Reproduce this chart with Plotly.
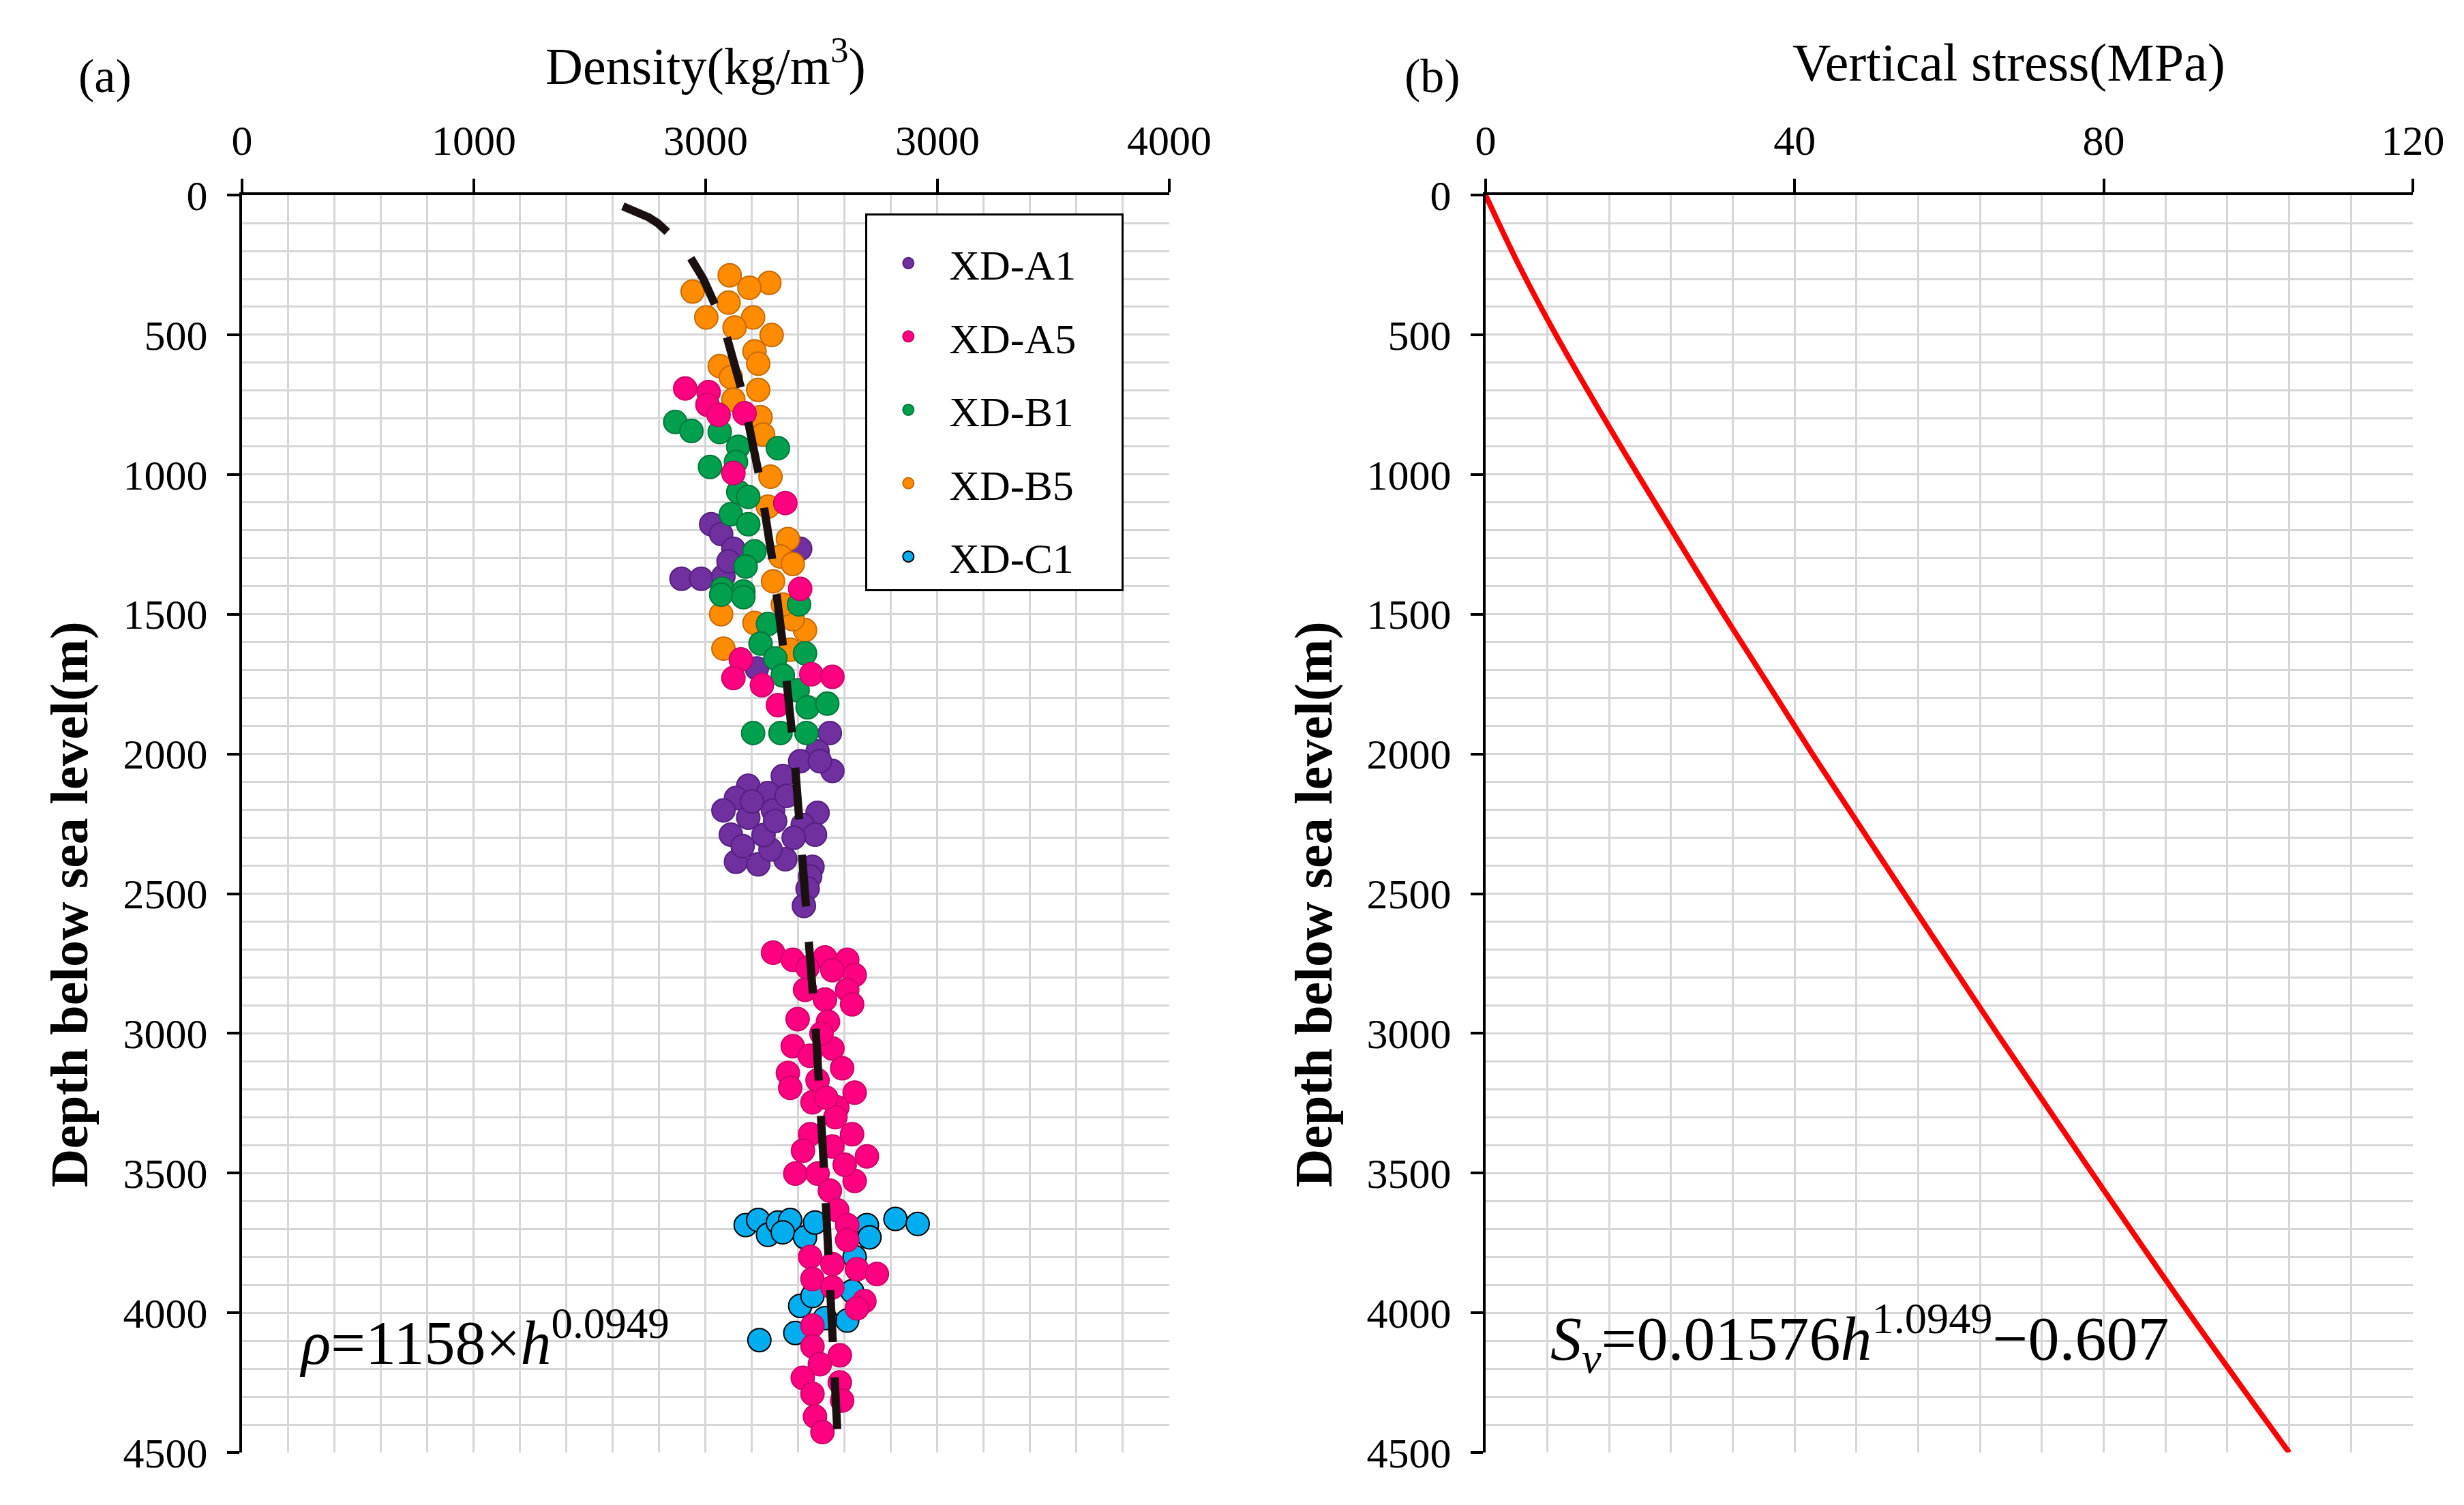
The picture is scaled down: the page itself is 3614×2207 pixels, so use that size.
import plotly.graph_objects as go

# ---- data ----
a1_density = [2024, 2067, 2120, 2408, 1896, 1981, 2077, 2099, 2221, 2536,
              2483, 2408, 2547, 2493, 2333, 2184, 2131, 2269, 2077, 2483,
              2184, 2291, 2419, 2472, 2131, 2227, 2344, 2461, 2280, 2451,
              2440, 2424, 2109, 2200, 2350, 2250, 2380, 2160, 2300]
a1_depth = [1178, 1213, 1266, 1266, 1373, 1373, 1364, 1311, 1694, 1925,
            1991, 2026, 2061, 2026, 2079, 2114, 2158, 2140, 2202, 2211,
            2228, 2202, 2254, 2289, 2386, 2395, 2377, 2404, 2342, 2439,
            2482, 2544, 2289, 2170, 2150, 2290, 2300, 2330, 2240]

a5_density = [1912, 2013, 2008, 2056, 2168, 2120, 2344, 2408, 2152, 2120,
              2243, 2456, 2547, 2312,
              2291, 2376, 2515, 2611, 2440, 2547, 2643, 2429, 2611, 2632,
              2515, 2397, 2528, 2376, 2547, 2355, 2589, 2365, 2483, 2643,
              2461, 2568, 2451, 2632, 2547, 2696, 2387, 2483, 2643, 2536,
              2568, 2611, 2611, 2451, 2547, 2653, 2739, 2461, 2685, 2653,
              2461, 2547, 2461, 2579, 2493, 2419, 2579, 2461, 2589, 2472,
              2504, 2500, 2450, 2560, 2520, 2420, 2600]
a5_depth = [692, 705, 750, 786, 781, 995, 1102, 1409, 1662, 1728,
            1754, 1715, 1724, 1825,
            2711, 2737, 2728, 2737, 2765, 2774, 2791, 2844, 2844, 2896,
            2879, 2949, 2958, 3046, 3054, 3142, 3125, 3195, 3168, 3212,
            3247, 3265, 3361, 3361, 3405, 3440, 3502, 3502, 3528, 3563,
            3633, 3686, 3739, 3800, 3826, 3844, 3861, 3879, 3958, 3984,
            4046, 3909, 4120, 4152, 4184, 4233, 4249, 4290, 4314, 4371,
            4427, 3000, 3080, 3300, 3230, 3420, 3470]

b1_density = [1869, 1939, 2061, 2141, 2312, 2019, 2131, 2141, 2184, 2109,
              2184, 2211, 2173, 2072, 2163, 2067, 2163, 2403, 2269, 2237,
              2429, 2301, 2333, 2397, 2440, 2525, 2205, 2323, 2435]
b1_depth = [812, 844, 848, 901, 906, 973, 955, 1062, 1080, 1142,
            1178, 1275, 1329, 1409, 1418, 1430, 1439, 1465, 1535, 1605,
            1640, 1658, 1719, 1772, 1833, 1820, 1925, 1925, 1925]

b5_density = [2104, 2275, 2189, 1944, 2099, 2003, 2205, 2125, 2285, 2211,
              2061, 2227, 2109, 2227, 2120, 2237, 2248, 2280, 2269, 2355,
              2323, 2291, 2376, 2067, 2211, 2429, 2376, 2077, 2365, 2333]
b5_depth = [287, 314, 332, 345, 385, 438, 438, 474, 501, 559,
            612, 603, 652, 697, 732, 795, 857, 1008, 1115, 1231,
            1293, 1382, 1320, 1500, 1531, 1557, 1518, 1623, 1627, 1465]

c1_density = [2173, 2227, 2269, 2312, 2365, 2333, 2429, 2472, 2696, 2707,
              2819, 2915, 2643, 2632, 2408, 2461, 2611, 2387, 2232, 2515]
c1_depth = [3686, 3668, 3721, 3677, 3668, 3712, 3730, 3677, 3686, 3730,
            3664, 3682, 3800, 3923, 3975, 3940, 4028, 4072, 4098, 4019]

# fitted density curve (dashed)
fit_depth = [40, 60, 80, 100, 130, 170, 220, 300, 400, 500, 700, 1000,
             1300, 1600, 2000, 2500, 3000, 3500, 4000, 4500]
fit_density = [1643, 1708, 1755, 1793, 1838, 1885, 1932, 1990, 2045, 2089,
               2156, 2230, 2287, 2332, 2382, 2433, 2476, 2512, 2544, 2573]

# vertical stress curve
sv_depth = [0, 250, 500, 750, 1000, 1500, 2000, 2500, 3000, 3500, 4000, 4500]
sv_stress = [0, 4.3, 9.1, 14.3, 19.7, 30.8, 42.3, 54.2, 66.2, 78.5, 91.0, 104.0]

depth_ticks = [0, 500, 1000, 1500, 2000, 2500, 3000, 3500, 4000, 4500]
density_ticks = [0, 1000, 2000, 3000, 4000]
density_ticktext = ["0", "1000", "3000", "3000", "4000"]
stress_ticks = [0, 40, 80, 120]

FONT = "Liberation Serif"
GRID = "#D6D6D6"
PAD = "\u00a0" * 4   # widens the legend box to match the reference

fig = go.Figure()

# drawing order bottom -> top, legend order via legendrank
series = [
    ("XD-A1", a1_density, a1_depth, "#7030A0", "#552080", 1),
    ("XD-C1", c1_density, c1_depth, "#00AEEF", "#000000", 5),
    ("XD-B5", b5_density, b5_depth, "#FF8C00", "#C86A00", 4),
    ("XD-B1", b1_density, b1_depth, "#00A04F", "#00783A", 3),
    ("XD-A5", a5_density, a5_depth, "#FF0080", "#D0006A", 2),
]
for name, xs, ys, col, lcol, rank in series:
    fig.add_trace(go.Scatter(
        x=xs, y=ys, mode="markers", name=name + PAD,
        legendgroup=name, legendrank=rank,
        marker=dict(size=34, color=col, line=dict(color=lcol, width=2)),
        xaxis="x", yaxis="y"))

fig.add_trace(go.Scatter(
    x=fit_density, y=fit_depth, mode="lines", showlegend=False,
    line=dict(color="#1A1010", width=12, dash="76px,52px"),
    xaxis="x", yaxis="y"))

fig.add_trace(go.Scatter(
    x=sv_stress, y=sv_depth, mode="lines", showlegend=False,
    line=dict(color="#FF0000", width=8, shape="spline"),
    xaxis="x2", yaxis="y2"))

axis_common = dict(
    showline=True, linecolor="black", linewidth=4, automargin=False,
    ticks="outside", ticklen=20, tickwidth=4, tickcolor="black",
    showgrid=True, gridcolor=GRID, gridwidth=3, zeroline=False,
    tickfont=dict(family=FONT, size=62, color="black"),
    ticklabelstandoff=10,
)

fig.update_layout(
    width=3614, height=2207,
    margin=dict(l=0, r=0, t=0, b=0, autoexpand=False),
    paper_bgcolor="white", plot_bgcolor="white",
    font=dict(family=FONT, color="black"),
    xaxis=dict(axis_common, domain=[0.0960, 0.4723], range=[0, 4000],
               side="top", anchor="y", tickvals=density_ticks,
               ticktext=density_ticktext,
               minor=dict(dtick=200, tick0=0, showgrid=True,
                          gridcolor=GRID, gridwidth=3, ticks="")),
    yaxis=dict(axis_common, domain=[0.0385, 0.8740], range=[4500, 0],
               anchor="x", tickvals=depth_ticks, ticklen=18,
               ticklabelstandoff=16,
               minor=dict(dtick=100, tick0=0, showgrid=True,
                          gridcolor=GRID, gridwidth=3, ticks="")),
    xaxis2=dict(axis_common, domain=[0.6007, 0.9770], range=[0, 120],
                side="top", anchor="y2", tickvals=stress_ticks,
                minor=dict(dtick=8, tick0=0, showgrid=True,
                           gridcolor=GRID, gridwidth=3, ticks="")),
    yaxis2=dict(axis_common, domain=[0.0385, 0.8740], range=[4500, 0],
                anchor="x2", tickvals=depth_ticks, ticklen=18,
                ticklabelstandoff=16,
                minor=dict(dtick=100, tick0=0, showgrid=True,
                           gridcolor=GRID, gridwidth=3, ticks="")),
    legend=dict(x=0.349, y=0.862, xanchor="left", yanchor="top",
                bgcolor="white", bordercolor="black", borderwidth=3,
                font=dict(family=FONT, size=62, color="black"),
                title=dict(text="\u00a0", font=dict(size=18)),
                tracegroupgap=24, itemwidth=110),
    showlegend=True,
)

ann = dict(showarrow=False, xanchor="center", yanchor="middle",
           font=dict(family=FONT, color="black"))
fig.add_annotation(ann, text="(a)", x=0.0405, y=0.9529, xref="paper",
                   yref="paper", font_size=70)
fig.add_annotation(ann, text="(b)", x=0.5790, y=0.9529, xref="paper",
                   yref="paper", font_size=70)
fig.add_annotation(ann, text="Density(kg/m<sup>3</sup>)", x=0.2842, y=0.962,
                   xref="paper", yref="paper", font_size=76)
fig.add_annotation(ann, text="Vertical stress(MPa)", x=0.813, y=0.962,
                   xref="paper", yref="paper", font_size=78)
for xp in (0.0257, 0.5307):
    fig.add_annotation(ann, text="<b>Depth below sea level(m)</b>", x=xp,
                       y=0.4028, xref="paper", yref="paper", textangle=-90,
                       font_size=78)
fig.add_annotation(ann, text="<i>ρ</i>=1158×<i>h</i><sup>0.0949</sup>",
                   x=240, y=4090, xref="x", yref="y", xanchor="left",
                   font_size=90)
fig.add_annotation(ann,
                   text="<i>S</i><sub><i>v</i></sub>=0.01576<i>h</i><sup>1.0949</sup>−0.607",
                   x=8.2, y=4090, xref="x2", yref="y2", xanchor="left",
                   font_size=92)

fig.write_html("out.html")
